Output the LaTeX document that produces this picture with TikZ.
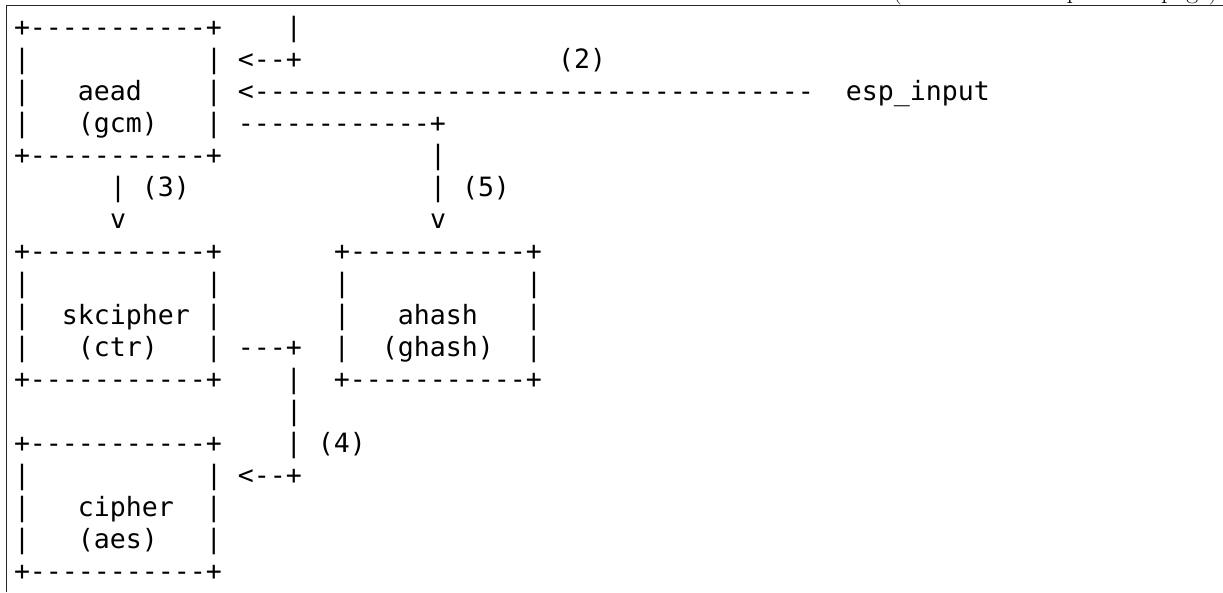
\documentclass[tikz,border=0pt]{standalone}
\usepackage{fontspec}
\setmonofont{DejaVu Sans Mono}
\begin{document}
\begin{tikzpicture}[x=1pt,y=-1pt,
  ascii/.style={anchor=base west, inner sep=0pt, outer sep=0pt,
    font=\ttfamily\fontsize{26.576}{32}\selectfont\frenchspacing},
  frameline/.style={line width=1.3pt, draw=black!85},
  contnote/.style={anchor=base east, inner sep=0pt, outer sep=0pt,
    font=\rmfamily\fontsize{26}{30}\selectfont}]
\useasboundingbox (0,0) rectangle (1223,592);
% frame
\coordinate (fbl) at (6.5,592);
\coordinate (ftl) at (6.5,5.6);
\coordinate (ftr) at (1223,5.6);
\draw[frameline] (fbl) -- (ftl) -- (ftr);
\node[contnote] (cont) at (1218,-1.5) {(continued from previous page)};
% ascii lines
\node[ascii] (l0)  at (14, 36.8) {+-----------+~~~~|};
\node[ascii] (l1)  at (14, 68.8) {|~~~~~~~~~~~|~<--+~~~~~~~~~~~~~~~~(2)};
\node[ascii] (l2)  at (14,100.8) {|~~~aead~~~~|~<-----------------------------------~~esp\_input};
\node[ascii] (l3)  at (14,132.8) {|~~~(gcm)~~~|~------------+};
\node[ascii] (l4)  at (14,164.8) {+-----------+~~~~~~~~~~~~~|};
\node[ascii] (l5)  at (14,196.8) {~~~~~~|~(3)~~~~~~~~~~~~~~~|~(5)};
\node[ascii] (l6)  at (14,228.8) {~~~~~~v~~~~~~~~~~~~~~~~~~~v};
\node[ascii] (l7)  at (14,260.8) {+-----------+~~~~~~~+-----------+};
\node[ascii] (l8)  at (14,292.8) {|~~~~~~~~~~~|~~~~~~~|~~~~~~~~~~~|};
\node[ascii] (l9)  at (14,324.8) {|~~skcipher~|~~~~~~~|~~~ahash~~~|};
\node[ascii] (l10) at (14,356.8) {|~~~(ctr)~~~|~---+~~|~~(ghash)~~|};
\node[ascii] (l11) at (14,388.8) {+-----------+~~~~|~~+-----------+};
\node[ascii] (l12) at (14,420.8) {~~~~~~~~~~~~~~~~~|};
\node[ascii] (l13) at (14,452.8) {+-----------+~~~~|~(4)};
\node[ascii] (l14) at (14,484.8) {|~~~~~~~~~~~|~<--+};
\node[ascii] (l15) at (14,516.8) {|~~~cipher~~|};
\node[ascii] (l16) at (14,548.8) {|~~~(aes)~~~|};
\node[ascii] (l17) at (14,580.8) {+-----------+};
\end{tikzpicture}
\end{document}
